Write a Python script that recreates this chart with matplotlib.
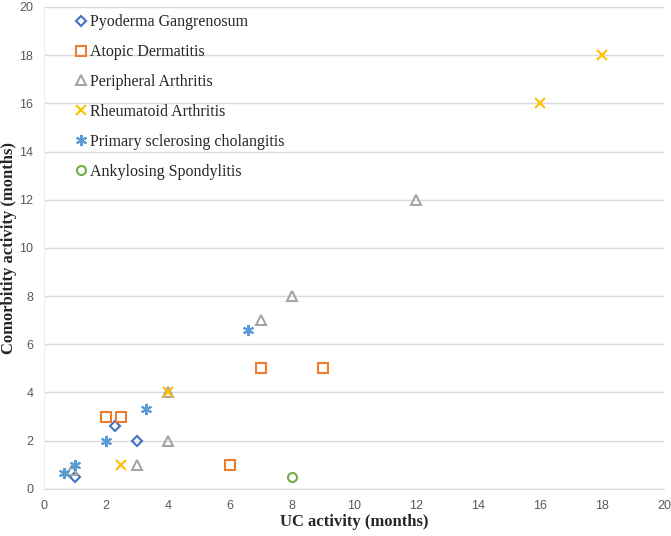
import matplotlib
matplotlib.use("Agg")
import matplotlib.pyplot as plt

# Data
pg_x = [1.0, 2.3, 3.0]
pg_y = [0.5, 2.6, 2.0]
ad_x = [2.0, 2.5, 6.0, 7.0, 9.0]
ad_y = [3.0, 3.0, 1.0, 5.0, 5.0]
pa_x = [0.9, 3.0, 4.0, 4.0, 7.0, 8.0, 12.0]
pa_y = [0.8, 1.0, 4.0, 2.0, 7.0, 8.0, 12.0]
ra_x = [2.5, 4.0, 16.0, 18.0]
ra_y = [1.0, 4.0, 16.0, 18.0]
psc_x = [0.65, 1.0, 2.0, 3.3, 6.6]
psc_y = [0.65, 1.0, 2.0, 3.3, 6.6]
as_x = [8.0]
as_y = [0.5]

x_ticks = list(range(0, 21, 2))
y_ticks = list(range(0, 21, 2))

fig = plt.figure(figsize=(6.71, 5.36), dpi=100)
ax = fig.add_axes([0.065, 0.088, 0.925, 0.899])

ms = 6.5
ax.plot(pg_x, pg_y, linestyle='none', marker='D', markersize=4.8, markerfacecolor='none',
        markeredgecolor='#4472C4', markeredgewidth=1.5, label='Pyoderma Gangrenosum')
ax.plot(ad_x, ad_y, linestyle='none', marker='s', markersize=ms, markerfacecolor='none',
        markeredgecolor='#ED7D31', markeredgewidth=1.5, label='Atopic Dermatitis')
ax.plot(pa_x, pa_y, linestyle='none', marker='^', markersize=ms, markerfacecolor='none',
        markeredgecolor='#A5A5A5', markeredgewidth=1.5, label='Peripheral Arthritis')
ax.plot(ra_x, ra_y, linestyle='none', marker='x', markersize=ms, color='#FFC000',
        markeredgewidth=1.5, label='Rheumatoid Arthritis')
ax.plot(psc_x, psc_y, linestyle='none', marker=(6, 2, 0), markersize=8, color='#5B9BD5',
        markeredgewidth=1.5, label='Primary sclerosing cholangitis')
ax.plot(as_x, as_y, linestyle='none', marker='o', markersize=ms, markerfacecolor='none',
        markeredgecolor='#70AD47', markeredgewidth=1.5, label='Ankylosing Spondylitis')

ax.set_xlim(0, 20)
ax.set_ylim(0, 20)
ax.set_xticks(x_ticks)
ax.set_yticks(y_ticks)
ax.set_xticklabels([str(t) for t in x_ticks])
ax.set_yticklabels([str(t) for t in y_ticks])
for lab in ax.get_xticklabels() + ax.get_yticklabels():
    lab.set_fontfamily('Liberation Sans')
    lab.set_fontsize(9)
    lab.set_color('#595959')

ax.tick_params(axis='x', length=0, pad=8)
ax.tick_params(axis='y', length=0, pad=7.5)
ax.yaxis.grid(True, color='#D9D9D9', linewidth=1)
ax.set_axisbelow(True)
for s in ['top', 'right']:
    ax.spines[s].set_visible(False)
ax.spines['left'].set_color('#EFEFEF')
ax.spines['bottom'].set_color('#D9D9D9')

ax.set_xlabel('UC activity (months)', fontfamily='Liberation Serif', fontweight='bold',
              fontsize=12, color='#262626')
ax.xaxis.set_label_coords(0.5, -0.053)
ax.set_ylabel('Comorbitity activity (months)', fontfamily='Liberation Serif', fontweight='bold',
              fontsize=12, color='#262626')
ax.yaxis.set_label_coords(-0.043, 0.5)

leg = ax.legend(loc='upper left', bbox_to_anchor=(0.035, 1.008), frameon=False,
                prop={'family': 'Liberation Serif', 'size': 11.5}, handlelength=0.6,
                handletextpad=0.25, labelspacing=0.87, borderaxespad=0.3)
for t in leg.get_texts():
    t.set_color('#262626')

fig.savefig('out.png', dpi=100)
